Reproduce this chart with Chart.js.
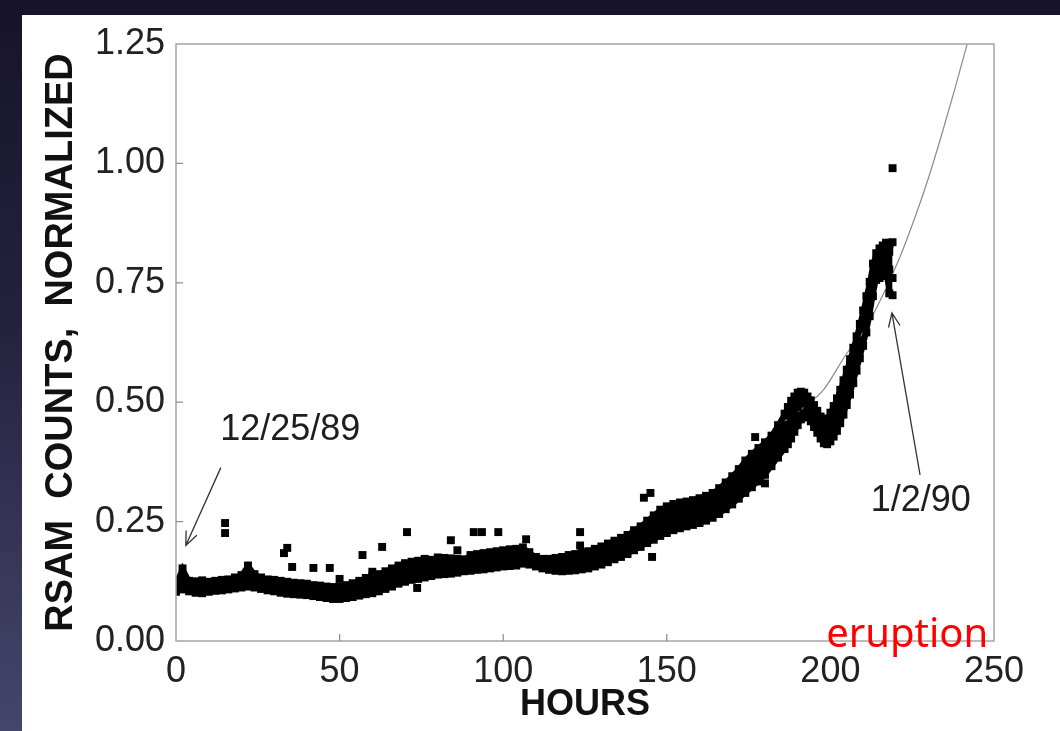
<!DOCTYPE html>
<html>
<head>
<meta charset="utf-8">
<title>RSAM counts</title>
<script src="https://cdn.jsdelivr.net/npm/chart.js@4.4.1/dist/chart.umd.min.js"></script>
<style>
  html, body { margin: 0; padding: 0; }
  body {
    width: 1060px; height: 731px; overflow: hidden; position: relative;
    background: linear-gradient(to bottom, #16132a 0%, #25223f 45%, #45466b 100%);
  }
  #panel { position: absolute; left: 22px; top: 15px; right: 0; bottom: 0; background: #fff; }
  #wrap { position: absolute; left: 0; top: 0; width: 1060px; height: 731px; }
</style>
</head>
<body>
<div id="panel"></div>
<div id="wrap"><canvas id="rsam-chart"></canvas></div>
<script>
// Hours since start of record (sampled along the dense band)
const hours = [
    0, 2, 4, 6, 8, 10, 12, 14, 16, 18, 20, 22, 24, 26, 28, 30, 32, 34, 36, 38,
    40, 42, 44, 46, 48, 50, 52, 54, 56, 58, 60, 62, 64, 66, 68, 70, 72, 74, 76, 78,
    80, 82, 84, 86, 88, 90, 92, 94, 96, 98, 100, 102, 104, 106, 108, 110, 112, 114, 116, 118,
    120, 122, 124, 126, 128, 130, 132, 134, 136, 138, 140, 142, 144, 146, 148, 150, 152, 154, 156, 158,
    160, 162, 164, 166, 168, 170, 172, 174, 176, 178, 180, 182, 184, 186,
    187, 188, 189, 190, 191, 192, 193, 194, 195, 196, 197, 198, 199, 200, 201, 202, 203,
    204, 205, 206, 207, 208, 209, 210, 211, 212, 213, 214, 215, 216, 217, 218, 219
];

// Normalized RSAM counts: lower edge, middle and upper edge of the band
const lowerBand = [
    0.103, 0.108, 0.104, 0.101, 0.100, 0.103, 0.105, 0.106, 0.108, 0.110, 0.112, 0.114, 0.112, 0.109, 0.106, 0.104, 0.101, 0.099, 0.098, 0.097,
    0.096, 0.094, 0.092, 0.090, 0.088, 0.088, 0.090, 0.092, 0.095, 0.098, 0.100, 0.104, 0.109, 0.114, 0.120, 0.124, 0.128, 0.130, 0.133, 0.136,
    0.139, 0.140, 0.141, 0.143, 0.146, 0.147, 0.149, 0.150, 0.152, 0.154, 0.156, 0.157, 0.158, 0.162, 0.160, 0.156, 0.152, 0.149, 0.147, 0.146,
    0.147, 0.148, 0.150, 0.152, 0.156, 0.160, 0.165, 0.171, 0.176, 0.182, 0.190, 0.197, 0.205, 0.212, 0.220, 0.226, 0.232, 0.236, 0.240, 0.243,
    0.247, 0.252, 0.258, 0.266, 0.276, 0.286, 0.298, 0.310, 0.322, 0.334, 0.348, 0.366, 0.384, 0.402,
    0.412, 0.424, 0.438, 0.452, 0.464, 0.470, 0.468, 0.460, 0.448, 0.436, 0.424, 0.414, 0.412, 0.418, 0.428, 0.440, 0.456,
    0.474, 0.494, 0.516, 0.540, 0.566, 0.592, 0.618, 0.646, 0.680, 0.722, 0.756, 0.760, 0.764, 0.770, 0.728, 0.724
];
const middleBand = [
    0.112, 0.125, 0.114, 0.112, 0.113, 0.114, 0.116, 0.117, 0.118, 0.121, 0.124, 0.130, 0.124, 0.120, 0.117, 0.115, 0.112, 0.110, 0.109, 0.108,
    0.106, 0.104, 0.102, 0.100, 0.098, 0.099, 0.101, 0.104, 0.108, 0.112, 0.116, 0.120, 0.125, 0.131, 0.137, 0.141, 0.145, 0.148, 0.150, 0.152,
    0.155, 0.156, 0.157, 0.158, 0.159, 0.162, 0.164, 0.166, 0.168, 0.170, 0.172, 0.174, 0.176, 0.178, 0.172, 0.166, 0.162, 0.160, 0.160, 0.160,
    0.162, 0.164, 0.167, 0.170, 0.174, 0.178, 0.183, 0.189, 0.195, 0.201, 0.210, 0.218, 0.228, 0.237, 0.246, 0.252, 0.258, 0.262, 0.265, 0.268,
    0.272, 0.277, 0.283, 0.292, 0.302, 0.313, 0.326, 0.340, 0.354, 0.368, 0.382, 0.398, 0.418, 0.440,
    0.452, 0.466, 0.478, 0.490, 0.498, 0.500, 0.494, 0.484, 0.470, 0.458, 0.446, 0.436, 0.434, 0.444, 0.456, 0.470, 0.488,
    0.508, 0.530, 0.552, 0.576, 0.602, 0.628, 0.656, 0.684, 0.716, 0.760, 0.786, 0.792, 0.796, 0.800, 0.778, 0.760
];
const upperBand = [
    0.120, 0.152, 0.126, 0.125, 0.127, 0.124, 0.126, 0.128, 0.129, 0.133, 0.138, 0.158, 0.140, 0.133, 0.129, 0.128, 0.126, 0.124, 0.122, 0.121,
    0.120, 0.117, 0.116, 0.114, 0.113, 0.114, 0.117, 0.121, 0.126, 0.132, 0.136, 0.140, 0.146, 0.152, 0.158, 0.163, 0.166, 0.168, 0.172, 0.170,
    0.175, 0.174, 0.173, 0.172, 0.171, 0.180, 0.182, 0.184, 0.186, 0.188, 0.190, 0.192, 0.193, 0.196, 0.186, 0.176, 0.172, 0.172, 0.174, 0.176,
    0.180, 0.182, 0.185, 0.188, 0.193, 0.198, 0.204, 0.210, 0.216, 0.222, 0.232, 0.240, 0.252, 0.263, 0.275, 0.282, 0.287, 0.290, 0.292, 0.295,
    0.299, 0.304, 0.310, 0.320, 0.332, 0.345, 0.360, 0.378, 0.392, 0.404, 0.416, 0.430, 0.452, 0.476,
    0.490, 0.503, 0.512, 0.520, 0.522, 0.520, 0.512, 0.504, 0.494, 0.482, 0.470, 0.462, 0.466, 0.478, 0.492, 0.508, 0.526,
    0.546, 0.568, 0.590, 0.614, 0.638, 0.664, 0.692, 0.722, 0.752, 0.790, 0.812, 0.822, 0.828, 0.834, 0.815, 0.835
];

// Scattered single readings away from the band
const outlierHours = [15, 15, 33, 34, 35.5, 42, 47, 50, 57, 60, 63, 70.6, 73.7, 84, 86, 91, 93.5, 98.5, 107, 123.5, 123.5, 143, 145, 145.5, 177, 180, 219];
const outlierValues = [0.247, 0.226, 0.184, 0.195, 0.155, 0.153, 0.153, 0.13, 0.18, 0.145, 0.197, 0.228, 0.111, 0.211, 0.19, 0.228, 0.228, 0.228, 0.213, 0.228, 0.2, 0.3, 0.31, 0.176, 0.427, 0.33, 0.99];

// Forecast curve (thin line)
const fitHours = [186, 192, 198, 205, 209, 215, 221, 226, 230, 234, 238, 241.8];
const fitValues = [0.46, 0.49, 0.527, 0.602, 0.636, 0.71, 0.80, 0.89, 0.97, 1.06, 1.155, 1.25];

const xTicks = [0, 50, 100, 150, 200, 250];
const yTicks = [0, 0.25, 0.5, 0.75, 1.0, 1.25];

const FONT = "'Liberation Sans', Arial, Helvetica, sans-serif";

function toPoints(xs, ys) {
    return xs.map((x, i) => ({ x: x, y: ys[i] }));
}

// Draws the frame, inner tick marks and the text notes on the plot
const frameAndNotes = {
    id: 'frameAndNotes',
    afterDraw(chart) {
        const { ctx, chartArea: a, scales } = chart;
        const x = scales.x, y = scales.y;
        ctx.save();

        ctx.strokeStyle = '#a4a4a4';
        ctx.lineWidth = 1.5;
        ctx.strokeRect(a.left, a.top, a.right - a.left, a.bottom - a.top);

        ctx.strokeStyle = '#8c8c8c';
        ctx.lineWidth = 1.2;
        ctx.beginPath();
        yTicks.slice(1, -1).forEach(v => {
            const py = y.getPixelForValue(v);
            ctx.moveTo(a.left, py);
            ctx.lineTo(a.left + 7, py);
        });
        xTicks.slice(1, -1).forEach(v => {
            const px = x.getPixelForValue(v);
            ctx.moveTo(px, a.bottom);
            ctx.lineTo(px, a.bottom - 7);
        });
        ctx.stroke();

        // arrows
        function arrow(h1, v1, h2, v2) {
            const x1 = x.getPixelForValue(h1), y1 = y.getPixelForValue(v1);
            const x2 = x.getPixelForValue(h2), y2 = y.getPixelForValue(v2);
            const ang = Math.atan2(y2 - y1, x2 - x1);
            ctx.beginPath();
            ctx.moveTo(x1, y1);
            ctx.lineTo(x2, y2);
            ctx.moveTo(x2 - 15 * Math.cos(ang - 0.4), y2 - 15 * Math.sin(ang - 0.4));
            ctx.lineTo(x2, y2);
            ctx.lineTo(x2 - 15 * Math.cos(ang + 0.4), y2 - 15 * Math.sin(ang + 0.4));
            ctx.stroke();
        }
        ctx.strokeStyle = '#333';
        ctx.lineWidth = 1.3;
        arrow(13.7, 0.363, 3.0, 0.2);
        arrow(227.4, 0.348, 218.8, 0.687);

        ctx.fillStyle = '#1e1e1e';
        ctx.font = '36px ' + FONT;
        ctx.textBaseline = 'middle';
        ctx.textAlign = 'left';
        ctx.fillText('12/25/89', x.getPixelForValue(13.5), y.getPixelForValue(0.442));
        ctx.fillText('1/2/90', x.getPixelForValue(212.3), y.getPixelForValue(0.293));

        ctx.fillStyle = '#ff0000';
        ctx.font = "40px 'Noto Sans', 'Open Sans', sans-serif";
        ctx.textBaseline = 'alphabetic';
        ctx.fillText('eruption', x.getPixelForValue(198.7), y.getPixelForValue(-0.013));

        ctx.restore();
    }
};

const ctx = document.getElementById('rsam-chart').getContext('2d');
const rsamChart = new Chart(ctx, {
    type: 'scatter',
    data: {
        datasets: [
            {
                type: 'line',
                label: 'Forecast',
                data: toPoints(fitHours, fitValues),
                borderColor: '#8a8a8a',
                borderWidth: 1.2,
                pointRadius: 0,
                cubicInterpolationMode: 'monotone',
                fill: false,
                order: 3
            },
            {
                // band body: lower edge line, filled up to the upper edge
                type: 'line',
                label: 'Band lower',
                data: toPoints(hours, lowerBand),
                borderColor: '#000',
                borderWidth: 5,
                pointRadius: 0,
                fill: false,
                order: 2
            },
            {
                type: 'line',
                label: 'Band upper',
                data: toPoints(hours, upperBand),
                borderColor: '#000',
                borderWidth: 5,
                backgroundColor: '#000',
                pointRadius: 0,
                fill: '-1',
                order: 2
            },
            {
                label: 'Lower',
                data: toPoints(hours, lowerBand),
                order: 1
            },
            {
                label: 'Middle',
                data: toPoints(hours, middleBand),
                order: 1
            },
            {
                label: 'Upper',
                data: toPoints(hours, upperBand),
                order: 1
            },
            {
                label: 'Outliers',
                data: toPoints(outlierHours, outlierValues),
                order: 1
            }
        ]
    },
    options: {
        responsive: true,
        maintainAspectRatio: false,
        animation: false,
        events: [],
        layout: { padding: { left: 0, right: 66, top: 44, bottom: 0 } },
        elements: {
            point: {
                pointStyle: 'rect',
                radius: 5.6,
                backgroundColor: '#000',
                borderWidth: 0
            }
        },
        plugins: {
            legend: { display: false },
            tooltip: { enabled: false },
            filler: { drawTime: 'beforeDatasetsDraw' }
        },
        scales: {
            x: {
                type: 'linear',
                min: 0,
                max: 250,
                afterFit(scale) { scale.height = 90; },
                afterBuildTicks(scale) { scale.ticks = xTicks.map(v => ({ value: v })); },
                grid: { display: false, drawTicks: false },
                border: { display: false },
                ticks: {
                    font: { family: FONT, size: 36 },
                    color: '#222',
                    padding: 9,
                    maxRotation: 0
                },
                title: {
                    display: true,
                    text: 'HOURS',
                    color: '#111',
                    font: { family: FONT, size: 36, weight: 'bold' },
                    padding: { top: 0, bottom: 4 }
                }
            },
            y: {
                min: 0,
                max: 1.25,
                afterFit(scale) { scale.width = 176; },
                afterBuildTicks(scale) { scale.ticks = yTicks.map(v => ({ value: v })); },
                grid: { display: false, drawTicks: false },
                border: { display: false },
                ticks: {
                    font: { family: FONT, size: 36 },
                    color: '#222',
                    padding: 11,
                    callback: v => v.toFixed(2)
                },
                title: {
                    display: true,
                    text: 'RSAM  COUNTS,  NORMALIZED',
                    color: '#111',
                    font: { family: FONT, size: 38, weight: 'bold' },
                    padding: { top: 39, bottom: 0 }
                }
            }
        }
    },
    plugins: [frameAndNotes]
});
</script>
</body>
</html>
